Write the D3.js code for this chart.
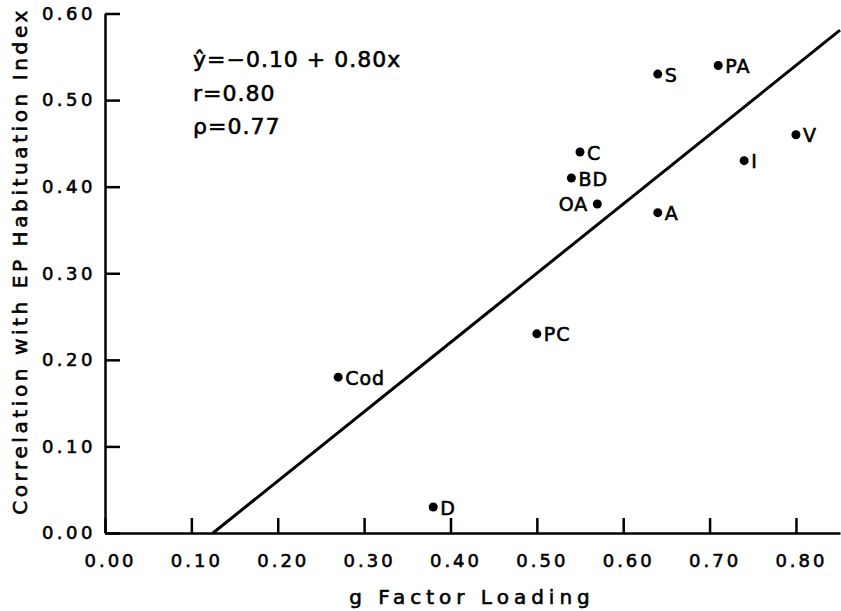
<!DOCTYPE html>
<html>
<head>
<meta charset="utf-8">
<script src="https://cdn.jsdelivr.net/npm/d3@7"></script>
<style>
  body { margin: 0; background: #fff; }
  svg text { font-family: "DejaVu Sans", sans-serif; fill: #000; stroke: #000; stroke-width: 0.6px; }
</style>
</head>
<body>
<div id="chart"></div>
<script>
// test abbreviations and their values
const testLabels = ["S", "PA", "V", "I", "C", "BD", "OA", "A", "PC", "Cod", "D"];
const gLoading = [0.64, 0.71, 0.80, 0.74, 0.55, 0.54, 0.57, 0.64, 0.50, 0.27, 0.38];
const habCorr = [0.53, 0.54, 0.46, 0.43, 0.44, 0.41, 0.38, 0.37, 0.23, 0.18, 0.03];

// regression from the annotation
const intercept = -0.10;
const slope = 0.80;
const statLines = ["ŷ=−0.10 + 0.80x", "r=0.80", "ρ=0.77"];

const xTicks = [0, 0.1, 0.2, 0.3, 0.4, 0.5, 0.6, 0.7, 0.8];
const yTicks = [0, 0.1, 0.2, 0.3, 0.4, 0.5, 0.6];

const W = 841, H = 611;
const svg = d3.select("#chart").append("svg")
    .attr("width", W)
    .attr("height", H);

const x = d3.scaleLinear().domain([0, 0.851]).range([105, 840]);
const y = d3.scaleLinear().domain([0, 0.6]).range([533, 13.5]);

// x axis, ticks pointing up into the plot
const xAxis = svg.append("g")
    .attr("transform", `translate(0,${y(0)})`)
    .call(d3.axisBottom(x).tickValues(xTicks).tickFormat(d3.format(".2f"))
        .tickSizeInner(-15).tickSizeOuter(0).tickPadding(21));
xAxis.select(".domain").attr("stroke-width", 2.5);
xAxis.selectAll(".tick line").attr("stroke-width", 2.5);
xAxis.selectAll("text")
    .attr("font-size", 18)
    .attr("letter-spacing", 3)
    .attr("dx", 5);

// y axis, ticks pointing right
const yAxis = svg.append("g")
    .attr("transform", `translate(${x(0)},0)`)
    .call(d3.axisLeft(y).tickValues(yTicks).tickFormat(d3.format(".2f"))
        .tickSizeInner(-15).tickSizeOuter(0).tickPadding(9));
yAxis.select(".domain").attr("stroke-width", 2.5);
yAxis.selectAll(".tick line").attr("stroke-width", 2.5);
yAxis.selectAll("text")
    .attr("font-size", 18)
    .attr("letter-spacing", 3.5);

// axis titles
svg.append("text")
    .attr("x", 472)
    .attr("y", 604)
    .attr("text-anchor", "middle")
    .attr("font-size", 20)
    .attr("letter-spacing", 5)
    .text("g Factor Loading");

svg.append("text")
    .attr("transform", `translate(27,${261}) rotate(-90)`)
    .attr("text-anchor", "middle")
    .attr("font-size", 20)
    .attr("letter-spacing", 3.6)
    .text("Correlation with EP Habituation Index");

// fitted line from where it crosses zero to the right edge
const x0 = -intercept / slope;
const x1 = x.domain()[1];
svg.append("line")
    .attr("x1", x(x0)).attr("y1", y(intercept + slope * x0))
    .attr("x2", x(x1)).attr("y2", y(intercept + slope * x1))
    .attr("stroke", "#000")
    .attr("stroke-width", 3);

// points
const pts = testLabels.map((t, i) => ({ t, gx: gLoading[i], hy: habCorr[i] }));
const leftLabeled = new Set(["OA"]);

svg.selectAll(".pt")
    .data(pts)
    .enter().append("circle")
    .attr("class", "pt")
    .attr("cx", d => x(d.gx))
    .attr("cy", d => y(d.hy))
    .attr("r", 4.5)
    .attr("fill", "#000");

svg.selectAll(".lbl")
    .data(pts)
    .enter().append("text")
    .attr("class", "lbl")
    .attr("x", d => x(d.gx) + (leftLabeled.has(d.t) ? -9 : 7))
    .attr("y", d => y(d.hy) + 7.5)
    .attr("text-anchor", d => leftLabeled.has(d.t) ? "end" : "start")
    .attr("font-size", 19)
    .attr("letter-spacing", 1)
    .text(d => d.t);

// stats annotation
const baselines = [67, 101, 134];
svg.selectAll(".stat")
    .data(statLines)
    .enter().append("text")
    .attr("class", "stat")
    .attr("x", 193)
    .attr("y", (d, i) => baselines[i])
    .attr("font-size", 22)
    .attr("letter-spacing", 1)
    .text(d => d);
</script>
</body>
</html>
